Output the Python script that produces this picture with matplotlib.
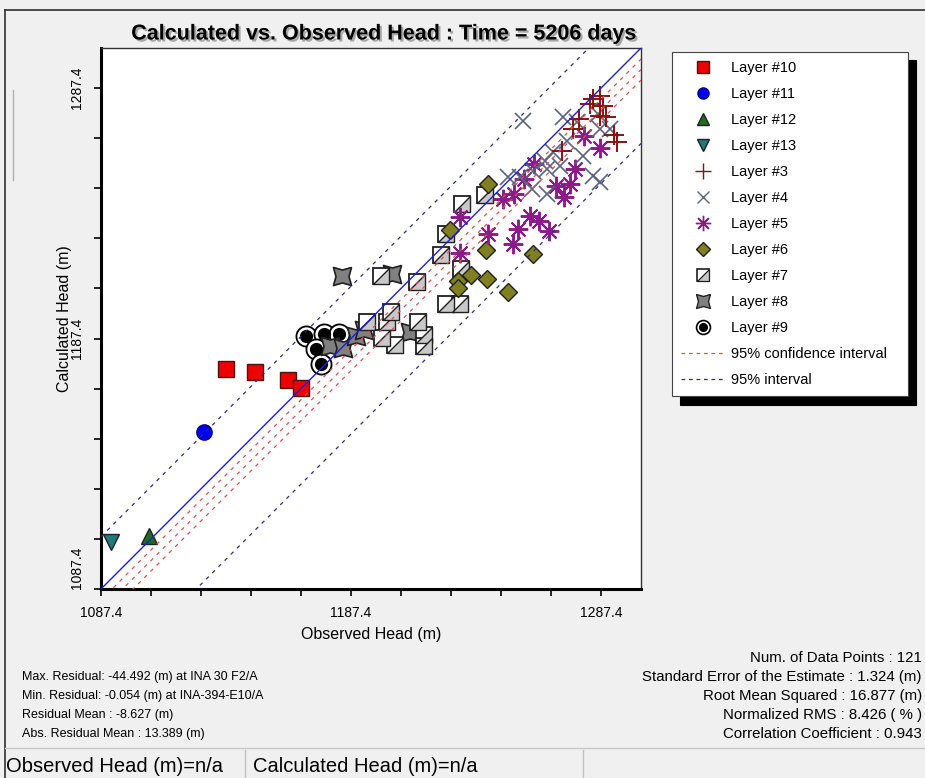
import matplotlib
matplotlib.use("Agg")
import matplotlib.pyplot as plt
import matplotlib.patheffects as pe
from matplotlib.path import Path
from matplotlib.lines import Line2D
import numpy as np
from matplotlib import font_manager

names = sorted({f.name for f in font_manager.fontManager.ttflist})
NARROW = 'Liberation Sans Narrow' if 'Liberation Sans Narrow' in names else 'Liberation Sans'
plt.rcParams['font.family'] = [NARROW, 'DejaVu Sans']

# ---------------- data (Observed, Calculated) ----------------
l10_obs = [1137.3, 1148.8, 1162.1, 1167.4]
l10_calc = [1175.4, 1173.9, 1171.0, 1167.7]
l11_obs = [1128.7]
l11_calc = [1150.1]
l12_obs = [1106.6]
l12_calc = [1108.6]
l13_obs = [1091.4]
l13_calc = [1106.3]
l3_obs = [1284.2, 1287.0, 1288.2, 1283.0, 1278.6, 1289.4, 1292.6, 1293.8, 1276.2, 1271.8, 1287.0]
l3_calc = [1283.0, 1284.2, 1280.2, 1281.0, 1275.0, 1275.8, 1268.6, 1265.8, 1271.0, 1262.2, 1276.2]
l4_obs = [1256.2, 1272.2, 1277.8, 1287.0, 1291.0, 1286.2, 1268.2, 1265.0, 1265.8, 1271.0,
          1280.2, 1284.2, 1287.0, 1255.0, 1259.8, 1265.8, 1260.2, 1250.2, 1273.8]
l4_calc = [1274.2, 1275.8, 1273.8, 1271.0, 1271.0, 1277.0, 1261.8, 1258.2, 1255.0, 1256.2,
           1260.2, 1252.2, 1249.8, 1251.8, 1247.0, 1245.0, 1254.2, 1251.8, 1266.2]
l5_obs = [1280.6, 1287.0, 1277.0, 1275.0, 1269.4, 1272.6, 1260.6, 1256.6, 1252.6, 1248.2,
          1259.0, 1262.6, 1266.6, 1254.2, 1252.2, 1242.2, 1231.0, 1231.0]
l5_calc = [1268.2, 1263.4, 1255.0, 1249.0, 1248.2, 1243.8, 1257.0, 1251.0, 1245.0, 1243.0,
           1236.2, 1234.2, 1230.2, 1231.0, 1225.0, 1229.0, 1235.8, 1221.4]
l6_obs = [1242.2, 1227.0, 1241.4, 1260.2, 1235.4, 1230.2, 1230.2, 1241.8, 1250.2]
l6_calc = [1249.0, 1230.6, 1222.6, 1221.0, 1212.6, 1210.2, 1207.4, 1211.0, 1205.8]
l7_obs = [1231.8, 1225.4, 1223.4, 1241.0, 1231.4, 1213.8, 1225.4, 1231.0, 1199.4, 1193.8,
          1201.8, 1203.4, 1199.8, 1205.0, 1214.2, 1216.6, 1216.6]
l7_calc = [1241.0, 1229.0, 1220.6, 1244.6, 1215.0, 1209.8, 1201.0, 1201.0, 1212.2, 1194.2,
           1194.2, 1197.8, 1187.8, 1185.0, 1194.2, 1189.0, 1184.6]
l8_obs = [1183.8, 1203.8, 1179.0, 1184.2, 1189.4, 1192.6, 1211.0]
l8_calc = [1212.2, 1213.0, 1184.6, 1183.8, 1188.6, 1191.0, 1190.2]
l9_obs = [1169.4, 1176.6, 1182.6, 1173.4, 1175.4]
l9_calc = [1188.6, 1189.4, 1189.4, 1183.4, 1177.4]

# statistics used for the interval lines
residual_mean = -8.627
interval_half = 29.5
conf_half = 4.2

axis_min, axis_max = 1087.4, 1303.4
tick_step = 20
label_ticks = [1087.4, 1187.4, 1287.4]

title = "Calculated vs. Observed Head : Time = 5206 days"
left_stats = ["Max. Residual: -44.492 (m) at INA 30 F2/A",
              "Min. Residual: -0.054 (m) at INA-394-E10/A",
              "Residual Mean : -8.627 (m)",
              "Abs. Residual Mean : 13.389 (m)"]
right_stats = ["Num. of Data Points : 121",
               "Standard Error of the Estimate : 1.324 (m)",
               "Root Mean Squared : 16.877 (m)",
               "Normalized RMS : 8.426 ( % )",
               "Correlation Coefficient : 0.943"]

# ---------------- figure ----------------
W, H = 925, 778
fig = plt.figure(figsize=(W / 100, H / 100), dpi=100, facecolor='#f0f0f0')

def fx(px):
    return px / W

def fy(py):
    return 1 - py / H

ax = fig.add_axes([fx(101), fy(589), fx(641) - fx(101), fy(48) - fy(589)])
ax.set_facecolor('white')
ax.set_xlim(axis_min, axis_max)
ax.set_ylim(axis_min, axis_max)

ticks = np.arange(axis_min, 1287.4 + 0.01, tick_step)
ax.set_xticks(ticks)
ax.set_yticks(ticks)
lab = [f"{t:.1f}" if any(abs(t - l) < 1e-6 for l in label_ticks) else "" for t in ticks]
ax.set_xticklabels(lab, fontsize=10)
ax.set_yticklabels(lab, fontsize=10, rotation=90, va='center')
ax.yaxis.get_ticklabels()[0].set_va('bottom')
ax.tick_params(direction='out', length=5, width=1.2, color='black', pad=7)
for s in ['left', 'bottom']:
    ax.spines[s].set_linewidth(2.2)
for s in ['top', 'right']:
    ax.spines[s].set_linewidth(1.0)
    ax.spines[s].set_color('#333333')

ax.set_xlabel("Observed Head (m)", fontsize=11.5, labelpad=5)
ax.set_ylabel("Calculated Head (m)", fontsize=11.5, labelpad=-1)

# ---------------- markers ----------------
ec = '#202020'
sq_tri = Path([(-1, -1), (1, -1), (1, 1), (-1, -1)], closed=True)
cushion = Path([(1, 1), (0, 0.72), (-1, 1), (-0.72, 0), (-1, -1), (0, -0.72), (1, -1), (0.72, 0), (1, 1)])

h9a, = ax.plot(l9_obs, l9_calc, 'o', ms=14.5, mfc='white', mec='black', mew=1.3, ls='none', zorder=2)
h9b, = ax.plot(l9_obs, l9_calc, 'o', ms=8.5, mfc='black', mec='black', mew=1, ls='none', zorder=2)
h8, = ax.plot(l8_obs, l8_calc, marker=cushion, ms=13, mfc='#808080', mec=ec, mew=1.2, ls='none', zorder=2)
h7a, = ax.plot(l7_obs, l7_calc, 's', ms=12, mfc='white', mec=ec, mew=1.3, ls='none', zorder=2)
h7b, = ax.plot(l7_obs, l7_calc, marker=sq_tri, ms=12, mfc='#c8c8c8', mec=ec, mew=1.0, ls='none', zorder=2)
h6, = ax.plot(l6_obs, l6_calc, 'D', ms=9, mfc='#808020', mec=ec, mew=1.0, ls='none', zorder=2)
h5, = ax.plot(l5_obs, l5_calc, marker=(8, 2, 0), ms=14, mec='#8b1a8b', mew=1.4, ls='none', zorder=2)
h5c, = ax.plot(l5_obs, l5_calc, 'o', ms=3.5, mfc='#8b1a8b', mec='#8b1a8b', ls='none', zorder=2)
h4, = ax.plot(l4_obs, l4_calc, 'x', ms=12, mec='#5a6480', mew=1.2, ls='none', zorder=2)
h3, = ax.plot(l3_obs, l3_calc, '+', ms=14, mec='#8b1010', mew=1.4, ls='none', zorder=2)
h13, = ax.plot(l13_obs, l13_calc, 'v', ms=11, mfc='#1f7a7a', mec=ec, mew=1.0, ls='none', zorder=2)
h12, = ax.plot(l12_obs, l12_calc, '^', ms=11, mfc='#1f6e1f', mec=ec, mew=1.0, ls='none', zorder=2)
h11, = ax.plot(l11_obs, l11_calc, 'o', ms=11, mfc='#0000ee', mec='#000088', mew=1.0, ls='none', zorder=2)
h10, = ax.plot(l10_obs, l10_calc, 's', ms=11.5, mfc='#ee0000', mec='#501010', mew=1.0, ls='none', zorder=2)

# ---------------- lines ----------------
xl = np.array([axis_min, axis_max])
ax.plot(xl, xl, color='#2020cc', lw=1.0, zorder=3)
for off in [-conf_half, 0, conf_half]:
    ax.plot(xl, xl + residual_mean + off, color='#e05050', lw=0.9, ls=(0, (3, 4)), zorder=3)
for off in [-interval_half, interval_half]:
    ax.plot(xl, xl + residual_mean + off, color='#2a2a90', lw=0.9, ls=(0, (3, 4)), zorder=3)

# ---------------- legend ----------------
def mk(**kw):
    return Line2D([], [], ls='none', **kw)

handles = [
    mk(marker='s', ms=8, mfc='#ee0000', mec='#501010'),
    mk(marker='o', ms=8, mfc='#0000ee', mec='#000088'),
    mk(marker='^', ms=8, mfc='#1f6e1f', mec=ec),
    mk(marker='v', ms=8, mfc='#1f7a7a', mec=ec),
    mk(marker='+', ms=11, mec='#8b1010', mew=1.0),
    mk(marker='x', ms=9, mec='#5a6480', mew=1.0),
    mk(marker=(8, 2, 0), ms=11, mec='#8b1a8b', mew=1.0),
    mk(marker='D', ms=7, mfc='#808020', mec=ec),
    (mk(marker='s', ms=9, mfc='white', mec=ec, mew=1.2), mk(marker=sq_tri, ms=9, mfc='#c8c8c8', mec=ec, mew=0.9)),
    mk(marker=cushion, ms=10, mfc='#808080', mec=ec, mew=1.0),
    (mk(marker='o', ms=10, mfc='white', mec='black', mew=1.2), mk(marker='o', ms=5.5, mfc='black', mec='black')),
    Line2D([], [], color='#e05050', lw=0.9, ls=(0, (3, 3))),
    Line2D([], [], color='#2a2a90', lw=0.9, ls=(0, (3, 3))),
]
labels = ["Layer #10", "Layer #11", "Layer #12", "Layer #13", "Layer #3", "Layer #4", "Layer #5",
          "Layer #6", "Layer #7", "Layer #8", "Layer #9", "95% confidence interval", "95% interval"]
leg = fig.legend(handles, labels, loc='upper left',
                 bbox_to_anchor=(fx(672), fy(397), fx(908) - fx(672), fy(52) - fy(397)),
                 mode='expand', frameon=True, fancybox=False, fontsize=10.5, labelspacing=0.82,
                 handlelength=2.9, handletextpad=0.5, borderpad=0.65, borderaxespad=0,
                 shadow={'color': 'black', 'alpha': 1, 'ox': 6, 'oy': -6})
leg.get_frame().set_edgecolor('#444444')
leg.get_frame().set_linewidth(0.8)

# ---------------- texts ----------------
fig.text(fx(384), fy(34), title, ha='center', va='center', fontsize=15.5, fontweight='bold',
         path_effects=[pe.SimplePatchShadow(offset=(1.5, -1.5), shadow_rgbFace='#888888', alpha=0.7), pe.Normal()])

for i, s in enumerate(left_stats):
    fig.text(fx(22), fy(677 + 19 * i), s, ha='left', va='center', fontsize=9)
for i, s in enumerate(right_stats):
    fig.text(fx(922), fy(658 + 19 * i), s, ha='right', va='center', fontsize=10.8)

fig.text(fx(6), fy(767), "Observed Head (m)=n/a", ha='left', va='center', fontsize=14.5)
fig.text(fx(253), fy(767), "Calculated Head (m)=n/a", ha='left', va='center', fontsize=14.5)

# window frame lines
fig.add_artist(Line2D([fx(5), fx(925)], [fy(10), fy(10)], color='#303030', lw=1.2))
fig.add_artist(Line2D([fx(5), fx(5)], [fy(10), fy(778)], color='#303030', lw=1.2))
fig.add_artist(Line2D([fx(13), fx(13)], [fy(90), fy(180)], color='#b0b0b0', lw=1.0))
fig.add_artist(Line2D([fx(5), fx(925)], [fy(748), fy(748)], color='#c8c8c8', lw=1.0))
fig.add_artist(Line2D([fx(245), fx(245)], [fy(750), fy(778)], color='#c0c0c0', lw=1.0))
fig.add_artist(Line2D([fx(583), fx(583)], [fy(750), fy(778)], color='#c0c0c0', lw=1.0))

fig.savefig('out.png', dpi=100, facecolor=fig.get_facecolor())
